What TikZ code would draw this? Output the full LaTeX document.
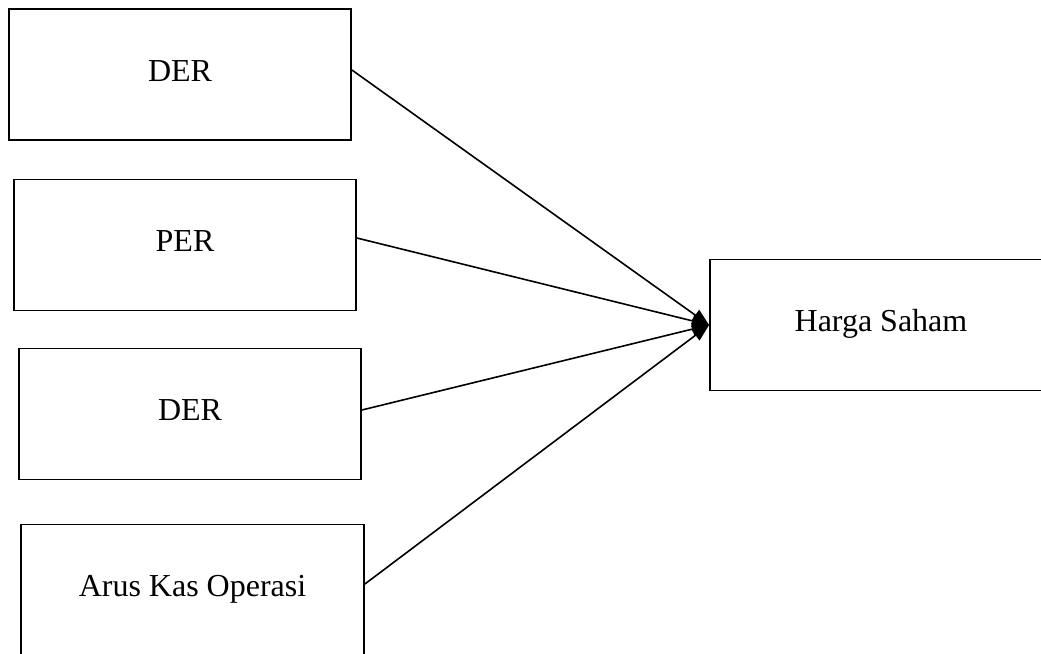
\documentclass[tikz,border=0pt]{standalone}
\usepackage{fontspec}
\setmainfont{Liberation Serif}
\usetikzlibrary{arrows.meta}
\begin{document}
\begin{tikzpicture}[x=1pt,y=-1pt,
  varbox/.style={draw, line width=1.8pt, rectangle, minimum width=342pt, minimum height=131pt,
    inner sep=0pt, text height=22pt, text depth=9pt, font=\fontsize{32}{38}\selectfont},
  link/.style={line width=1.6pt, -{Triangle[length=17pt,width=13pt]}}]
\useasboundingbox (0,0) rectangle (1041,653);
\clip (0,0) rectangle (1041,653);
\fill[white] (0,0) rectangle (1041,653);
\node[varbox] (der1) at (180,74.5) {DER};
\node[varbox] (per) at (185,245) {PER};
\node[varbox] (der2) at (190,414) {DER};
\node[varbox, minimum width=343pt] (ako) at (192.5,590) {Arus Kas Operasi};
\node[varbox] (hs) at (881,325) {Harga Saham};
\draw[link] ([yshift=4.5pt]der1.east) -- (hs.west);
\draw[link] ([yshift=7pt]per.east) -- (hs.west);
\draw[link] ([yshift=4pt]der2.east) -- (hs.west);
\draw[link] ([yshift=6pt]ako.east) -- (hs.west);
\end{tikzpicture}
\end{document}
